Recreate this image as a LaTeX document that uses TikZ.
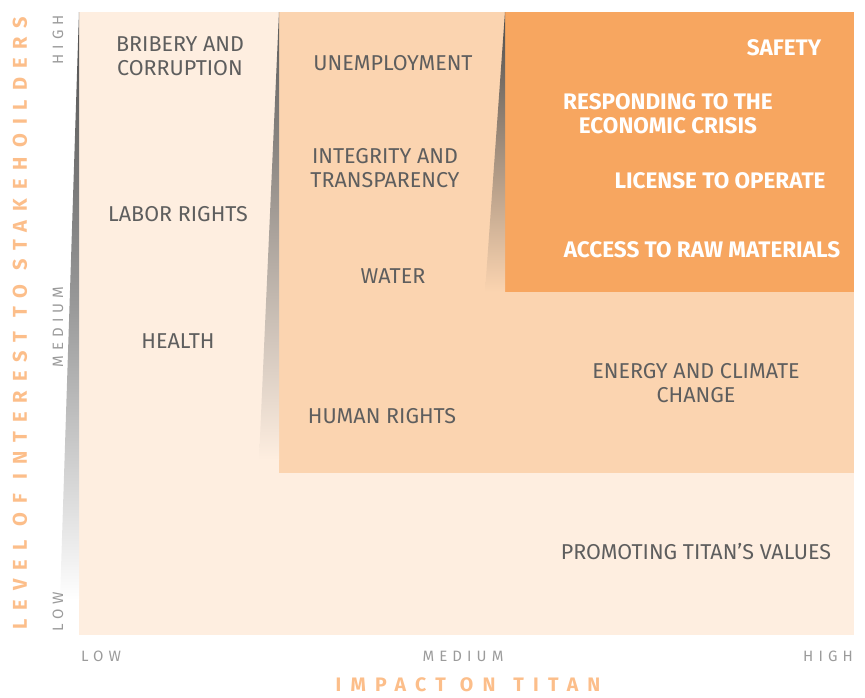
\documentclass[tikz,border=0pt]{standalone}
\usepackage{fontspec}
\setmainfont{Fira Sans}
\newfontfamily\axisfont[LetterSpace=34]{Fira Sans}
\newfontfamily\titlefont[LetterSpace=47]{Fira Sans}
\newfontfamily\vtitlefont[LetterSpace=45]{Fira Sans}
\definecolor{lightreg}{HTML}{FEEEE0}
\definecolor{medreg}{HTML}{FBD4B0}
\definecolor{darkreg}{HTML}{F7A660}
\definecolor{txtgray}{HTML}{5E5E5E}
\definecolor{axgray}{HTML}{9B9B9B}
\definecolor{ttlorange}{HTML}{FCBE8A}
\newcommand{\wgap}[1]{\rule{#1pt}{0pt}}
\tikzset{
  lbl/.style={text=txtgray, font=\fontsize{21.5}{24}\selectfont, align=center, inner sep=0pt},
  wlbl/.style={text=white, font=\fontsize{22.5}{24}\selectfont\bfseries, align=center, inner sep=0pt},
  axl/.style={text=axgray, font=\axisfont\fontsize{15}{16}\selectfont, inner sep=0pt},
  ttl/.style={text=ttlorange, font=\titlefont\bfseries\fontsize{19.5}{21}\selectfont, inner sep=0pt},
  vttl/.style={text=ttlorange, font=\vtitlefont\bfseries\fontsize{20}{21}\selectfont, inner sep=0pt}
}
\begin{document}
\begin{tikzpicture}[x=1pt,y=-1pt]
\useasboundingbox (0,0) rectangle (865,697);
% regions
\fill[lightreg] (79,12) rectangle (854,635);
\shade[top color=black!70, bottom color=white, middle color=black!40] (79,12) -- (79,600) -- (60,600) -- cycle;
\fill[medreg] (279,12) rectangle (854,473);
\shade[top color=black!65, middle color=black!35!lightreg, bottom color=lightreg] (279,12) -- (279,460) -- (259,460) -- cycle;
\fill[darkreg] (505,12) rectangle (854,292);
\shade[top color=black!70, middle color=black!30!medreg, bottom color=medreg] (505,12) -- (505,292) -- (485,292) -- cycle;
% labels
\node[lbl] (bribery) at (180,56) {BRIBERY AND\\CORRUPTION};
\node[lbl] (labor) at (178,214) {LABOR RIGHTS};
\node[lbl] (health) at (178,341) {HEALTH};
\node[lbl] (unemp) at (393,63) {UNEMPLOYMENT};
\node[lbl] (integ) at (385,168) {INTEGRITY AND\\TRANSPARENCY};
\node[lbl] (water) at (393,276) {WATER};
\node[lbl] (human) at (382,416) {HUMAN RIGHTS};
\node[lbl] (energy) at (696,383) {ENERGY AND CLIMATE\\CHANGE};
\node[lbl] (promo) at (696,552) {PROMOTING TITAN’S VALUES};
\node[wlbl] (safety) at (784,48) {SAFETY};
\node[wlbl] (resp) at (668,114) {RESPONDING TO THE\\ECONOMIC CRISIS};
\node[wlbl] (license) at (720,181) {LICENSE TO OPERATE};
\node[wlbl] (access) at (702,250) {ACCESS TO RAW MATERIALS};
% axes
\node[axl, anchor=west] (xlow) at (81,656) {LOW};
\node[axl] (xmed) at (463,656) {MEDIUM};
\node[axl, anchor=east] (xhigh) at (853,656) {HIGH};
\node[ttl] (xttl) at (468,685) {IMPACT\wgap{14}ON\wgap{18}TITAN};
\node[axl, rotate=90] (ylow) at (58,612) {LOW};
\node[axl, rotate=90] (ymed) at (58,327) {MEDIUM};
\node[axl, rotate=90] (yhigh) at (58,40) {HIGH};
\node[vttl, rotate=90] (yttl) at (20,323) {LEVEL\wgap{14}OF\wgap{14}INTEREST\wgap{14}TO\wgap{14}STAKEHOILDERS};
\end{tikzpicture}
\end{document}
